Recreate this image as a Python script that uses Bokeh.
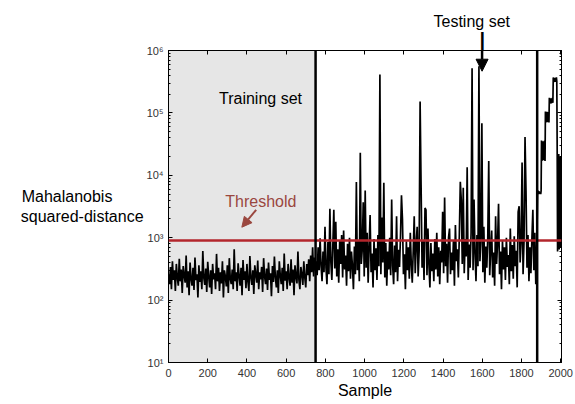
import numpy as np
from bokeh.plotting import figure
from bokeh.models import (Range1d, FixedTicker, LinearAxis, LogAxis, Span, Title,
                          BoxAnnotation, Label, Arrow, NormalHead)
from bokeh.embed import file_html
from bokeh.resources import INLINE

# ---------------- data ----------------
train_start, train_step = 0, 5
train_vals = [
    260, 180, 340, 150, 420, 210, 300, 140, 380, 230, 170, 460, 200, 310, 130, 350, 250, 190, 520, 160,
    290, 120, 400, 220, 170, 330, 145, 480, 210, 260, 110, 360, 195, 290, 150, 610, 230, 175, 320, 135,
    410, 240, 160, 300, 125, 380, 215, 270, 150, 550, 200, 330, 140, 280, 185, 420, 110, 300, 240, 165,
    360, 130, 470, 220, 180, 310, 150, 650, 200, 280, 140, 390, 245, 170, 330, 120, 440, 210, 290, 155,
    380, 200, 140, 510, 230, 175, 300, 125, 360, 260, 190, 430, 150, 280, 215, 340, 135, 470, 240, 180,
    320, 145, 400, 210, 270, 115, 350, 195, 500, 230, 160, 300, 130, 420, 250, 180, 330, 140, 560, 205,
    290, 150, 380, 225, 170, 450, 190, 310, 120, 360, 240, 185, 600, 210, 150, 340, 260, 175, 420, 230,
    160, 380, 250, 450, 200, 520, 280, 700, 240, 480, 300,
]

test_start, test_step = 753, 5
test_vals = [
    420, 250, 700, 300, 980, 350, 200, 600, 280, 1500, 330, 180, 850, 260, 2900, 400, 210, 750, 2800, 320,
    1800, 240, 650, 190, 900, 380, 1100, 230, 1300, 310, 520, 170, 800, 290, 1000, 220, 600, 350, 150, 720,
    260, 7800, 300, 900, 200, 23000, 380, 650, 3700, 240, 5700, 330, 1200, 190, 700, 2300, 280, 560, 160, 950,
    300, 680, 210, 1100, 350, 412000, 260, 2100, 400, 7600, 230, 820, 170, 600, 310, 1000, 250, 4100, 360, 180,
    750, 280, 2200, 200, 640, 340, 1050, 4800, 2000, 260, 540, 150, 880, 300, 700, 220, 1200, 380, 190, 620,
    2200, 270, 800, 1500, 240, 600, 152000, 7000, 330, 900, 210, 3000, 2800, 250, 1400, 370, 160, 820, 290,
    560, 200, 950, 310, 1200, 240, 700, 180, 620, 400, 2600, 270, 4400, 350, 800, 190, 1000, 1400, 260, 580,
    300, 900, 170, 1600, 420, 650, 230, 1100, 7900, 4000, 380, 6300, 270, 950, 500, 13500, 210, 780, 330, 1200,
    520000, 300, 4100, 560, 200, 1100, 350, 560000, 420, 900, 68000, 280, 1500, 190, 720, 330, 980, 17000, 250, 640,
    1300, 230, 580, 170, 2200, 380, 820, 3500, 260, 600, 150, 900, 310, 700, 210, 1000, 340, 530, 180, 1400,
    290, 760, 220, 1050, 350, 620, 160, 2600, 3200, 400, 850, 16000, 260, 900, 41000, 5700, 330, 1100, 200, 700,
    270, 950, 2800, 300, 1200, 180, 650,
]

end_start, end_step = 1882, 2
end_vals = [
    5800, 5200, 5600, 5000, 5500, 5100, 5400, 5300, 5000, 5600,
    36000, 17000, 34000, 18000, 35000, 17500, 33000, 18000, 36000, 17000,
    105000, 70000, 100000, 72000, 104000, 71000, 98000, 74000, 103000, 70000,
    175000, 140000, 170000, 145000, 172000, 142000, 168000, 150000, 174000, 145000,
    370000, 310000, 360000, 320000, 365000, 315000, 355000, 325000, 370000, 320000,
    25000, 600, 18000, 800, 22000, 650, 15000, 900, 20000, 700, 12000, 1000,
]

threshold = 900
train_end = 750
test_end = 1880
x_ticks = [0, 200, 400, 600, 800, 1000, 1200, 1400, 1600, 1800, 2000]
y_ticks = [10, 100, 1000, 10000, 100000, 1000000]
y_tick_labels = ["10\u00b9", "10\u00b2", "10\u00b3", "10\u2074", "10\u2075", "10\u2076"]

# ---------------- build series ----------------
x = np.concatenate([
    train_start + train_step * np.arange(len(train_vals)),
    test_start + test_step * np.arange(len(test_vals)),
    end_start + end_step * np.arange(len(end_vals)),
]).astype(float)
y = np.array(train_vals + test_vals + end_vals, dtype=float)

FONT = "Liberation Sans"
RED = "#b3262c"
BROWN = "#9a473f"

p = figure(width=575, height=404, x_range=Range1d(0, 2004), y_range=Range1d(10, 1e6),
           y_axis_type="log", output_backend="svg", toolbar_location=None,
           min_border_left=168, min_border_right=14, min_border_top=50, min_border_bottom=42)
p.xgrid.visible = False
p.ygrid.visible = False
p.outline_line_color = "black"
p.outline_line_width = 1
p.background_fill_color = "white"
p.border_fill_color = "white"

minor = [m * 10 ** e for e in range(1, 6) for m in range(2, 10)]
xt = FixedTicker(ticks=x_ticks, minor_ticks=[])
yt = FixedTicker(ticks=y_ticks, minor_ticks=minor)

def style(ax, labels=True):
    ax.axis_line_color = "black"
    ax.axis_line_width = 1
    ax.major_tick_in = 4
    ax.major_tick_out = 0
    ax.minor_tick_in = 2
    ax.minor_tick_out = 0
    ax.major_tick_line_color = "black"
    ax.minor_tick_line_color = "black"
    if labels:
        ax.major_label_text_font = FONT
        ax.major_label_text_font_size = "11px"
        ax.major_label_text_color = "#333333"

xa = p.xaxis[0]
xa.ticker = xt
style(xa)
xa.major_label_standoff = 6
xa.axis_label = "Sample"
xa.axis_label_text_font = FONT
xa.axis_label_text_font_size = "16px"
xa.axis_label_text_font_style = "normal"
xa.axis_label_text_color = "black"
xa.axis_label_standoff = 2

ya = p.yaxis[0]
ya.ticker = yt
style(ya)
ya.major_label_standoff = 5
ya.major_label_overrides = {t: l for t, l in zip(y_ticks, y_tick_labels)}
# first line padded with no-break spaces so both lines start at the same left edge
ya.axis_label = "Mahalanobis" + "\u00a0" * 7 + "\nsquared-distance"
ya.axis_label_text_font = FONT
ya.axis_label_text_font_size = "16px"
ya.axis_label_text_font_style = "normal"
ya.axis_label_text_color = "black"
ya.axis_label_standoff = 0
_props = ya.properties()
if "axis_label_orientation" in _props:
    ya.axis_label_orientation = "horizontal"
ya.axis_label_text_align = "left"

top = LinearAxis(ticker=FixedTicker(ticks=x_ticks, minor_ticks=[]))
style(top, labels=False)
top.major_label_overrides = {t: " " for t in x_ticks}
top.major_label_text_font_size = "1px"
top.major_label_text_alpha = 0
top.major_label_standoff = 0
p.add_layout(top, "above")

# upper part of the "Testing set" arrow shaft (outside the frame) and the caption
p.add_layout(Title(text="\u2503", align="left", offset=309, standoff=0,
                   text_font="DejaVu Sans", text_font_size="16px",
                   text_font_style="normal", text_color="black"), "above")
p.add_layout(Title(text="Testing set", align="left", offset=265, standoff=0,
                   text_font=FONT, text_font_size="16px",
                   text_font_style="normal", text_color="black"), "above")

right = LogAxis(ticker=FixedTicker(ticks=y_ticks, minor_ticks=minor))
style(right, labels=False)
right.major_label_overrides = {t: " " for t in y_ticks}
right.major_label_text_font_size = "1px"
right.major_label_text_alpha = 0
right.major_label_standoff = 0
p.add_layout(right, "right")

p.add_layout(BoxAnnotation(left=0, right=train_end, fill_color="#e6e6e6", fill_alpha=1,
                           line_color=None, level="underlay"))

p.line(x, y, line_color="black", line_width=1.7)

p.add_layout(Span(location=threshold, dimension="width", line_color=RED, line_width=2.5))
p.add_layout(Span(location=train_end, dimension="height", line_color="black", line_width=2.5))
p.add_layout(Span(location=test_end, dimension="height", line_color="black", line_width=2.5))

def lab(xv, yv, txt, color="black"):
    p.add_layout(Label(x=xv, y=yv, text=txt, text_align="center", text_baseline="middle",
                       text_font=FONT, text_font_size="16px", text_color=color))

lab(469, 10 ** 5.231, "Training set")
lab(471, 10 ** 3.585, "Threshold", color=BROWN)

p.add_layout(Arrow(end=NormalHead(size=10, fill_color=BROWN, line_color=BROWN),
                   x_start=447, y_start=10 ** 3.447, x_end=374, y_end=10 ** 3.168,
                   line_color=BROWN, line_width=2))
p.add_layout(Arrow(end=NormalHead(size=12, fill_color="black", line_color="black"),
                   x_start=1599, y_start=10 ** 6.224, x_end=1599, y_end=10 ** 5.668,
                   line_color="black", line_width=2.5))

open("out.html", "w").write(file_html(p, INLINE))
